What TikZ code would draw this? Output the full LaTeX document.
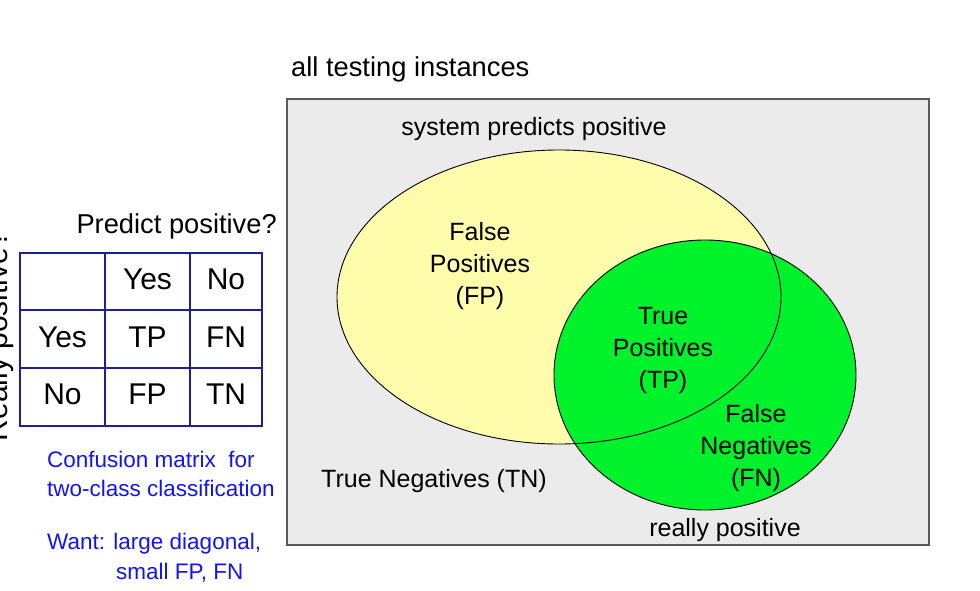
\documentclass[tikz,border=0pt]{standalone}
\usepackage{fontspec}
\setmainfont{Liberation Sans}
\definecolor{bgbox}{RGB}{235,235,235}
\definecolor{yell}{RGB}{255,252,172}
\definecolor{grn}{RGB}{0,242,42}
\definecolor{tblue}{RGB}{30,30,160}
\definecolor{txtblue}{RGB}{20,20,240}
\tikzset{
  lab/.style={inner sep=0pt, align=center, font=\fontsize{25}{32}\selectfont},
  big/.style={inner sep=0pt, font=\fontsize{27.3}{32}\selectfont},
  cell/.style={inner sep=0pt, font=\fontsize{30}{36}\selectfont},
  note/.style={inner sep=0pt, anchor=west, text=txtblue, font=\fontsize{22.5}{29}\selectfont},
  grid/.style={draw=tblue, line width=1.2pt}
}
\begin{document}
\begin{tikzpicture}[x=1pt,y=-1pt]
\useasboundingbox (0,0) rectangle (980,591);
% outer box
\node[draw=gray!70!black, line width=1.2pt, fill=bgbox, minimum width=642pt, minimum height=446pt, inner sep=0pt] (box) at (608,322) {};
% ellipses
\coordinate (ycen) at (559,297);
\coordinate (gcen) at (705,375);
\fill[yell] (ycen) ellipse [x radius=222, y radius=147];
\filldraw[fill=grn, draw=black, line width=0.9pt] (gcen) ellipse [x radius=151, y radius=135];
\draw[black, line width=0.9pt] (ycen) ellipse [x radius=222, y radius=147];
% labels
\node[big, anchor=west] (all) at (291,69.5) {all testing instances};
\node[lab] (sys) at (534,129) {system predicts positive};
\node[lab] (fp) at (480,266.5) {False\\Positives\\(FP)};
\node[lab] (tp) at (663,350.5) {True\\Positives\\(TP)};
\node[lab] (fn) at (756,448.5) {False\\Negatives\\(FN)};
\node[lab] (tn) at (434,481) {True Negatives (TN)};
\node[lab] (rp) at (725,530) {really positive};
% table
\draw[grid] (20,253) rectangle (262,426);
\draw[grid] (105,253) -- (105,426);
\draw[grid] (190,253) -- (190,426);
\draw[grid] (20,310) -- (262,310);
\draw[grid] (20,368) -- (262,368);
\node[big, anchor=east] (pp) at (277,226) {Predict positive?};
\node[cell] (c12) at (147.5,279) {Yes};
\node[cell] (c13) at (226,279) {No};
\node[cell] (c21) at (62.5,337) {Yes};
\node[cell] (c22) at (147.5,337) {TP};
\node[cell] (c23) at (226,337) {FN};
\node[cell] (c31) at (62.5,394) {No};
\node[cell] (c32) at (147.5,394) {FP};
\node[cell] (c33) at (226,394) {TN};
\node[cell, rotate=90, anchor=base] (rp2) at (8,336) {Really positive?};
% notes
\node[note] (n1) at (47,459) {Confusion matrix\ \ for};
\node[note] (n2) at (47,488) {two-class classification};
\node[note] (n3) at (47,544) {Want: large diagonal,};
\node[note] (n4) at (116,573) {small FP, FN};
\end{tikzpicture}
\end{document}
